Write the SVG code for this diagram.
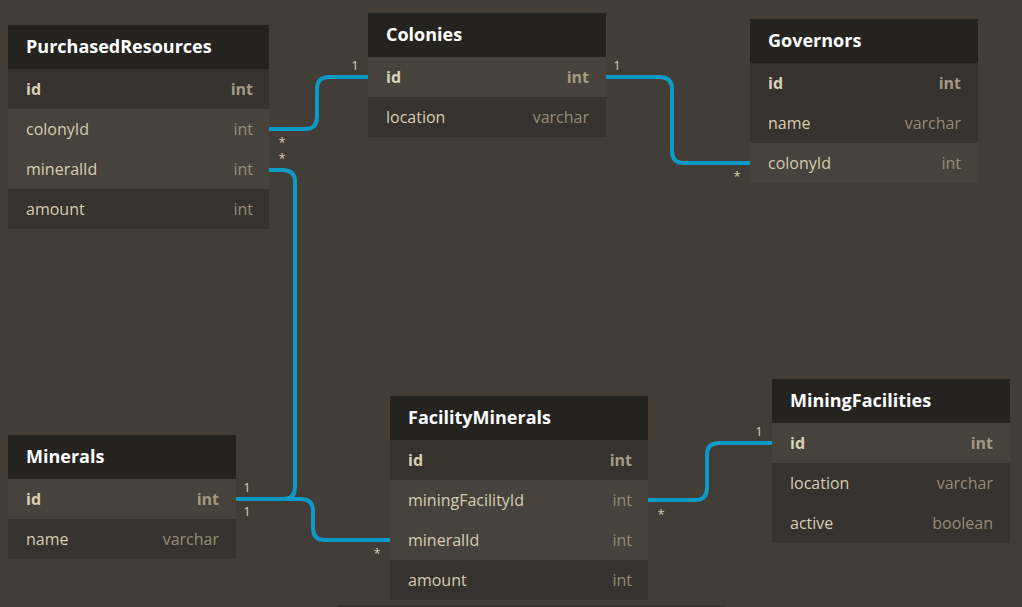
<svg xmlns="http://www.w3.org/2000/svg" width="1022" height="607" viewBox="0 0 1022 607">
<style>
.hd{fill:#252320}
.rd{fill:#36322d}
.rl{fill:#47423b}
.t{font-family:"Open Sans","Noto Sans","DejaVu Sans",sans-serif;font-size:18px;font-weight:bold;fill:#ffffff}
.f{font-family:"Open Sans","Noto Sans","DejaVu Sans",sans-serif;font-size:16px;fill:#d6cdb2}
.ty{font-family:"Open Sans","Noto Sans","DejaVu Sans",sans-serif;font-size:16px;fill:#968c75;text-anchor:end}
.fb{font-family:"Open Sans","Noto Sans","DejaVu Sans",sans-serif;font-size:16px;font-weight:bold;fill:#d9d0b5}
.tyb{font-family:"Open Sans","Noto Sans","DejaVu Sans",sans-serif;font-size:16px;font-weight:bold;fill:#a39982;text-anchor:end}
.c{fill:none;stroke:#0b9bc6;stroke-width:4}
.lb{font-family:"Open Sans","Noto Sans","DejaVu Sans",sans-serif;font-size:13px;fill:#d6cdb2;text-anchor:middle}
</style>
<rect width="1022" height="607" fill="#433d37"/>
<rect x="338" y="605" width="387" height="2" fill="#38342e"/>

<g id="connectors">
<path class="c" d="M269,129 H305 Q317,129 317,117 V89 Q317,77 329,77 H368"/>
<path class="c" d="M269,170 H283 Q295,170 295,182 V487 Q295,499 283,499 H236"/>
<path class="c" d="M236,499 H301 Q313,499 313,511 V528 Q313,540 325,540 H390"/>
<path class="c" d="M648,500 H695 Q707,500 707,488 V455 Q707,443 719,443 H772"/>
<path class="c" d="M606,77 H660 Q672,77 672,89 V151 Q672,163 684,163 H750"/>
<text class="lb" x="355" y="70">1</text>
<text class="lb" x="282" y="147">*</text>
<text class="lb" x="282" y="163">*</text>
<text class="lb" x="617" y="70">1</text>
<text class="lb" x="737" y="181">*</text>
<text class="lb" x="247" y="492">1</text>
<text class="lb" x="247" y="516">1</text>
<text class="lb" x="377" y="558">*</text>
<text class="lb" x="661" y="519">*</text>
<text class="lb" x="759" y="436">1</text>
</g>

<g id="PurchasedResources">
<rect class="hd" x="8" y="25" width="261" height="44"/>
<rect class="rd" x="8" y="69" width="261" height="40"/>
<rect class="rl" x="8" y="109" width="261" height="80"/>
<rect class="rd" x="8" y="189" width="261" height="40"/>
<text class="t" x="26" y="53">PurchasedResources</text>
<text class="fb" x="26" y="95">id</text><text class="tyb" x="253" y="95">int</text>
<text class="f" x="26" y="135">colonyId</text><text class="ty" x="253" y="135">int</text>
<text class="f" x="26" y="175">mineralId</text><text class="ty" x="253" y="175">int</text>
<text class="f" x="26" y="215">amount</text><text class="ty" x="253" y="215">int</text>
</g>

<g id="Colonies">
<rect class="hd" x="368" y="13" width="238" height="44"/>
<rect class="rl" x="368" y="57" width="238" height="40"/>
<rect class="rd" x="368" y="97" width="238" height="40"/>
<text class="t" x="386" y="41">Colonies</text>
<text class="fb" x="386" y="83">id</text><text class="tyb" x="589" y="83">int</text>
<text class="f" x="386" y="123">location</text><text class="ty" x="589" y="123">varchar</text>
</g>

<g id="Governors">
<rect class="hd" x="750" y="19" width="228" height="44"/>
<rect class="rd" x="750" y="63" width="228" height="40"/>
<rect class="rd" x="750" y="103" width="228" height="40"/>
<rect class="rl" x="750" y="143" width="228" height="40"/>
<text class="t" x="768" y="47">Governors</text>
<text class="fb" x="768" y="89">id</text><text class="tyb" x="961" y="89">int</text>
<text class="f" x="768" y="129">name</text><text class="ty" x="961" y="129">varchar</text>
<text class="f" x="768" y="169">colonyId</text><text class="ty" x="961" y="169">int</text>
</g>

<g id="Minerals">
<rect class="hd" x="8" y="435" width="228" height="44"/>
<rect class="rl" x="8" y="479" width="228" height="40"/>
<rect class="rd" x="8" y="519" width="228" height="40"/>
<text class="t" x="26" y="463">Minerals</text>
<text class="fb" x="26" y="505">id</text><text class="tyb" x="219" y="505">int</text>
<text class="f" x="26" y="545">name</text><text class="ty" x="219" y="545">varchar</text>
</g>

<g id="FacilityMinerals">
<rect class="hd" x="390" y="396" width="258" height="44"/>
<rect class="rd" x="390" y="440" width="258" height="40"/>
<rect class="rl" x="390" y="480" width="258" height="80"/>
<rect class="rd" x="390" y="560" width="258" height="40"/>
<text class="t" x="408" y="424">FacilityMinerals</text>
<text class="fb" x="408" y="466">id</text><text class="tyb" x="632" y="466">int</text>
<text class="f" x="408" y="506">miningFacilityId</text><text class="ty" x="632" y="506">int</text>
<text class="f" x="408" y="546">mineralId</text><text class="ty" x="632" y="546">int</text>
<text class="f" x="408" y="586">amount</text><text class="ty" x="632" y="586">int</text>
</g>

<g id="MiningFacilities">
<rect class="hd" x="772" y="379" width="238" height="44"/>
<rect class="rl" x="772" y="423" width="238" height="40"/>
<rect class="rd" x="772" y="463" width="238" height="80"/>
<text class="t" x="790" y="407">MiningFacilities</text>
<text class="fb" x="790" y="449">id</text><text class="tyb" x="993" y="449">int</text>
<text class="f" x="790" y="489">location</text><text class="ty" x="993" y="489">varchar</text>
<text class="f" x="790" y="529">active</text><text class="ty" x="993" y="529">boolean</text>
</g>
</svg>
